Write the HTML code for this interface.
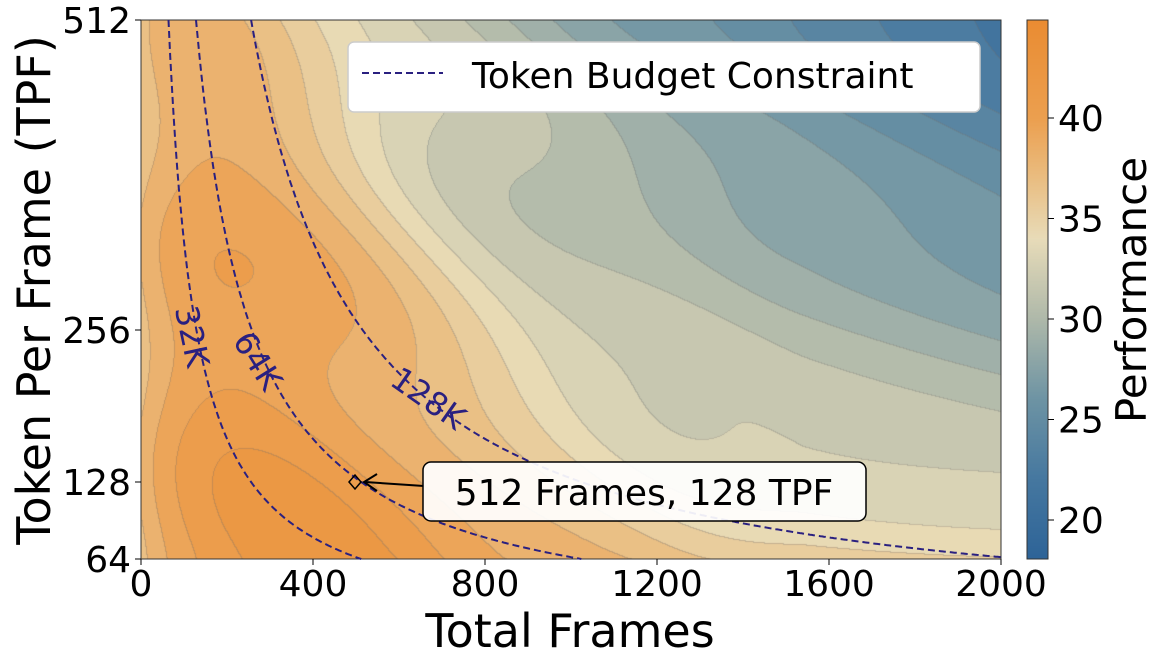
<!DOCTYPE html>
<html><head><meta charset="utf-8"><style>
body{margin:0;background:#fff;width:1162px;height:663px;overflow:hidden;position:relative;font-family:"DejaVu Sans","Liberation Sans",sans-serif}
canvas{position:absolute}
svg{position:absolute;left:0;top:0}
</style></head><body>
<canvas id="c" width="860" height="539" style="left:141px;top:20px"></canvas>
<canvas id="cb" width="21" height="539" style="left:1027px;top:20px"></canvas>
<svg id="s" width="1162" height="663" font-family="DejaVu Sans, Liberation Sans, sans-serif"></svg>
<script>
const X0=141,X1=1001,Y0=20,Y1=559;
const px=f=>X0+f/2000*(X1-X0), py=t=>Y1-(t-64)/448*(Y1-Y0);
const stops=[[18,[46,100,152]],[22,[70,120,160]],[26,[110,148,164]],[30,[175,185,170]],[34,[232,220,185]],[37,[234,190,130]],[40,[236,160,80]],[45,[234,140,50]]];
function col(v){if(v<=stops[0][0])return stops[0][1];for(let i=1;i<stops.length;i++){if(v<=stops[i][0]){const a=stops[i-1],b=stops[i],t=(v-a[0])/(b[0]-a[0]);return a[1].map((c,k)=>c+(b[1][k]-c)*t);}}return stops[stops.length-1][1];}
const sig=z=>1/(1+Math.exp(-z));
function val(f,t){const fx=f/2000,ty=(t-64)/448;
const cc=850-550*ty;
let d=7*sig((f-cc)/160)+14*fx*Math.pow(ty,0.8)+1.5+5*Math.exp(-f/130);
d+=0.8*Math.sin(f/120+t/45)*Math.sin(Math.PI*Math.min(1,fx*1.3))*(1-ty*0.4);
d+=0.5*Math.sin(t/30+f/400);
return 44-d;}
const c=document.getElementById('c').getContext('2d');const W=860,H=539;
const img=c.createImageData(W,H);const lv=new Int16Array(W*H);
const step=1.3;
for(let y=0;y<H;y++)for(let x=0;x<W;x++){const f=x/W*2000,t=512-y/H*448;const v=val(f,t);lv[y*W+x]=Math.floor((v-18)/step);}
for(let y=0;y<H;y++)for(let x=0;x<W;x++){const i=y*W+x;let cc=col(18+(lv[i]+0.5)*step);
let edge=(x>0&&lv[i-1]!=lv[i])||(y>0&&lv[i-W]!=lv[i]);
if(edge)cc=cc.map(q=>q*0.7+110*0.3);
img.data[i*4]=cc[0];img.data[i*4+1]=cc[1];img.data[i*4+2]=cc[2];img.data[i*4+3]=255;}
c.putImageData(img,0,0);
const cb=document.getElementById('cb').getContext('2d');
for(let y=0;y<539;y++){const v=44.9-(y/539)*(44.9-18);const k=col(v);cb.fillStyle=`rgb(${k[0]|0},${k[1]|0},${k[2]|0})`;cb.fillRect(0,y,21,1);}
let s='';
s+=`<rect x="${X0}" y="${Y0}" width="${X1-X0}" height="${Y1-Y0}" fill="none" stroke="#333" stroke-width="1"/>`;
s+=`<rect x="1027" y="20" width="21" height="539" fill="none" stroke="#333" stroke-width="1"/>`;
function curve(T){let p='';for(let f=20;f<=2000;f+=4){const t=T/f;if(t>512||t<64)continue;p+=(p?'L':'M')+px(f).toFixed(1)+','+py(t).toFixed(1);}return p;}
[32768,65536,131072].forEach(T=>{s+=`<path d="${curve(T)}" fill="none" stroke="#2a2080" stroke-width="2" stroke-dasharray="7,4"/>`;});
s+=`<text x="190" y="337" font-size="32" fill="#2a2080" text-anchor="middle" dominant-baseline="middle" transform="rotate(78 190 337)">32K</text>`;
s+=`<text x="256" y="362" font-size="32" fill="#2a2080" text-anchor="middle" dominant-baseline="middle" transform="rotate(58 256 362)">64K</text>`;
s+=`<text x="427" y="400" font-size="32" fill="#2a2080" text-anchor="middle" dominant-baseline="middle" transform="rotate(35 427 400)">128K</text>`;
s+=`<line x1="365" y1="482" x2="424" y2="486" stroke="#000" stroke-width="2"/><path d="M377,474 L364,482 L377,491" fill="none" stroke="#000" stroke-width="2"/>`;
s+=`<path d="M349,482 L355,475 L361,482 L355,489Z" fill="none" stroke="#000" stroke-width="1.5"/>`;
s+=`<rect x="423" y="462" width="443" height="59" rx="8" fill="#fff" fill-opacity="0.92" stroke="#000" stroke-width="1.5"/>`;
s+=`<text x="644" y="505" font-size="36" text-anchor="middle">512 Frames, 128 TPF</text>`;
s+=`<rect x="348" y="42" width="632" height="70" rx="6" fill="#fff" stroke="#ccc" stroke-width="1.5"/>`;
s+=`<line x1="362" y1="73" x2="443" y2="73" stroke="#2a2080" stroke-width="2" stroke-dasharray="7,4"/>`;
s+=`<text x="472" y="88" font-size="36">Token Budget Constraint</text>`;
[0,400,800,1200,1600,2000].forEach(f=>{const x=px(f);s+=`<line x1="${x}" y1="559" x2="${x}" y2="565" stroke="#000"/><text x="${x}" y="596" font-size="36" text-anchor="middle">${f}</text>`;});
[[64,559],[128,482],[256,330],[512,20]].forEach(([t,y])=>{s+=`<line x1="135" y1="${y}" x2="141" y2="${y}" stroke="#000"/><text x="131" y="${y+13}" font-size="36" text-anchor="end">${t}</text>`;});
[20,25,30,35,40].forEach(v=>{const y=520-(v-20)*20.1;s+=`<line x1="1048" y1="${y}" x2="1054" y2="${y}" stroke="#000"/><text x="1058" y="${y+13}" font-size="36">${v}</text>`;});
s+=`<text x="570" y="647" font-size="46" text-anchor="middle">Total Frames</text>`;
s+=`<text x="0" y="0" font-size="46" text-anchor="middle" transform="translate(50 290) rotate(-90)">Token Per Frame (TPF)</text>`;
s+=`<text x="0" y="0" font-size="42" text-anchor="middle" transform="translate(1146 290) rotate(-90)">Performance</text>`;
document.getElementById('s').innerHTML=s;
</script>
</body></html>
